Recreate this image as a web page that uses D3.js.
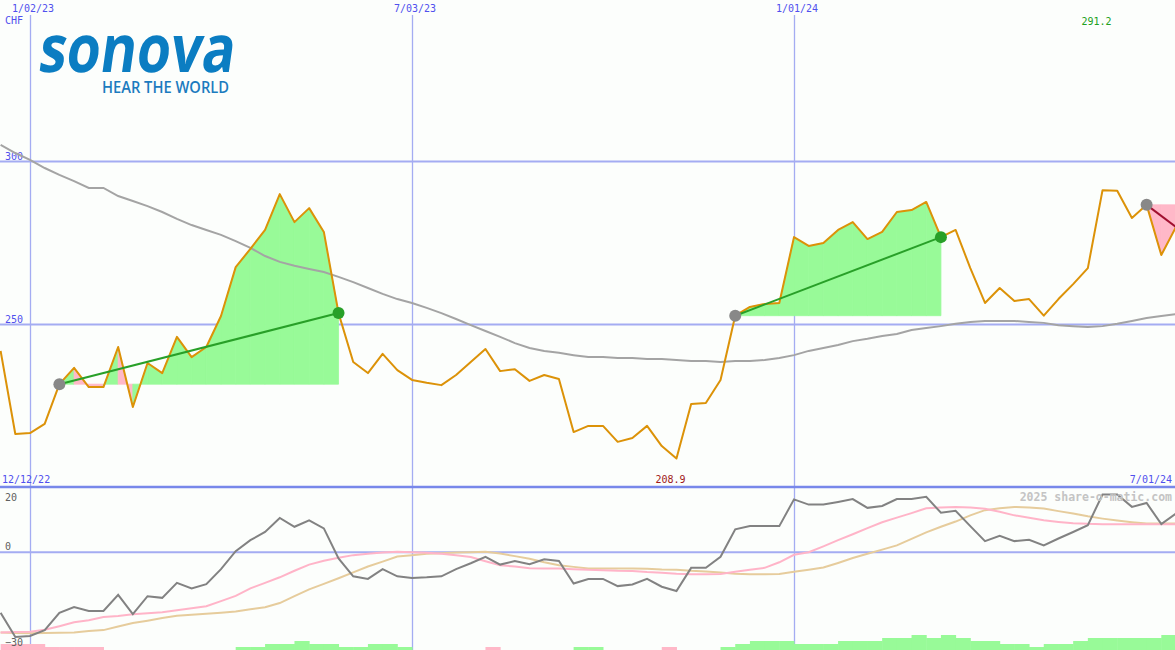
<!DOCTYPE html>
<html>
<head>
<meta charset="utf-8">
<script src="https://cdn.jsdelivr.net/npm/d3@7"></script>
<style>
  html, body { margin: 0; padding: 0; background: #fcfefc; }
  svg { display: block; }
  text.mono { font-family: "DejaVu Sans Mono", monospace; }
</style>
</head>
<body>
<svg id="chart" width="1175" height="650"></svg>
<script>
// ---------- DATA ----------
const startWeek = "12/19/22";          // first weekly bar (just off the left edge)
const topTickLabels = ["1/02/23", "7/03/23", "1/01/24"];
const priceTicks = [300, 250];
const oscTicks = [20, 0, -30];

// weekly closing price (CHF)
const price = [241.9,216.4,216.7,219.5,231.7,236.7,230.8,230.8,243.1,224.7,
  238.2,235.1,246.2,240.0,243.1,252.6,267.6,273.2,279.0,290.0,
  281.4,285.7,278.4,253.5,238.5,235.1,241.0,236.0,233.0,232.1,
  231.4,234.5,238.5,242.5,235.7,236.3,232.7,234.5,233.3,217.0,
  218.9,218.9,214.0,215.2,218.9,212.7,208.9,225.6,225.9,233.0,
  252.7,255.4,256.3,256.6,276.8,274.1,275.0,279.0,281.4,276.2,
  278.4,284.5,285.1,287.6,276.8,279.0,267.3,256.6,261.2,257.2,
  257.8,252.7,257.8,262.4,267.3,291.2,291.0,282.7,286.7,271.3,
  279.9];

// long moving average (grey)
const movingAvg = [305.1,302.6,300.5,298.0,295.9,294.0,291.9,291.9,289.4,287.9,
  286.3,284.5,282.4,280.5,279.0,277.5,275.6,273.5,271.0,269.2,
  268.0,267.0,266.1,264.6,263.0,261.2,259.4,257.8,256.6,255.1,
  253.5,251.7,249.8,248.0,246.2,244.3,242.8,241.9,241.3,240.6,
  240.0,240.0,239.7,239.7,239.4,239.4,239.1,238.8,238.8,238.5,
  238.8,238.8,239.1,239.7,240.6,241.9,242.8,243.7,244.9,245.6,
  246.5,247.1,248.3,248.9,249.5,250.2,250.8,251.1,251.1,251.1,
  250.8,250.5,249.8,249.5,249.2,249.5,250.2,251.1,252.0,252.6,
  253.2];

// oscillator panel
const oscMain = [-18.6,-26.0,-25.7,-23.9,-18.6,-16.8,-18.0,-18.0,-13.1,-19.0,
  -13.5,-14.0,-9.4,-11.1,-9.8,-5.2,0.3,3.7,6.2,10.5,
  7.8,9.8,7.3,-1.9,-7.4,-8.2,-5.2,-7.4,-7.9,-7.7,
  -7.4,-5.2,-3.4,-1.4,-3.8,-2.7,-3.7,-2.2,-2.7,-9.6,
  -8.2,-8.2,-10.4,-9.9,-8.2,-10.6,-11.9,-4.8,-4.8,-1.4,
  7.0,8.0,8.0,8.0,16.2,14.6,14.6,15.4,16.3,13.6,
  14.2,16.3,16.3,17.0,12.1,12.7,8.0,3.4,5.0,3.4,
  3.8,2.1,4.2,6.2,8.3,17.7,17.7,13.9,15.1,8.6,
  11.9];
const oscPink = [-24.6,-24.5,-24.4,-23.8,-22.7,-21.5,-20.9,-19.9,-19.6,-19.0,
  -18.7,-18.4,-17.8,-17.2,-16.6,-15.0,-13.4,-11.1,-9.4,-7.7,
  -5.7,-3.8,-2.6,-1.7,-0.9,-0.5,-0.1,0.1,0.0,-0.2,
  -0.5,-0.9,-1.5,-2.8,-4.0,-4.4,-4.9,-5.0,-5.0,-5.2,
  -5.4,-5.5,-5.7,-5.8,-6.1,-6.3,-6.6,-6.8,-6.8,-6.7,
  -6.0,-5.4,-4.8,-3.1,-0.8,0.0,1.8,3.7,5.5,7.4,
  9.2,10.6,12.0,13.5,13.7,13.9,13.7,13.3,12.4,11.3,
  10.6,9.8,9.3,8.9,8.7,8.6,8.6,8.6,8.6,8.6,
  8.6];
const oscTan = [-24.6,-24.8,-24.9,-24.8,-24.7,-24.6,-24.2,-23.9,-22.8,-21.7,
  -21.0,-20.2,-19.5,-19.2,-18.9,-18.6,-18.2,-17.5,-16.9,-15.6,
  -13.5,-11.4,-9.7,-8.0,-6.2,-4.4,-2.9,-1.3,-0.9,-0.5,
  -0.3,-0.1,0.0,0.1,-0.4,-1.2,-2.0,-3.1,-4.0,-4.5,
  -5.0,-5.0,-5.0,-5.0,-5.1,-5.3,-5.4,-5.7,-5.9,-6.2,
  -6.6,-6.8,-6.8,-6.7,-6.0,-5.4,-4.7,-3.3,-1.8,-0.5,
  0.8,2.1,4.1,6.1,7.8,9.4,11.3,12.9,13.5,13.9,
  13.7,13.4,12.6,11.9,11.0,10.3,9.7,9.2,8.8,8.8,
  8.8];
// weekly histogram (one per week interval)
const histo = [-2,-2,-2,-1,-1,-1,-1,0,0,0, 0,0,0,0,0,0,1,1,2,2,
  3,2,2,1,1,2,2,1,0,0, 0,0,0,-1,0,0,0,0,0,1,
  1,0,0,0,0,-1,0,0,0,1, 2,3,3,3,2,2,2,3,3,3,
  4,4,5,4,5,4,3,3,2,2, 1,2,2,3,4,4,4,4,4,5];

// trades (week indices)
const tradeEntry = [4, 50, 78];
const tradeExit  = [23, 64, 80];
const tradeOpen  = [false, false, true];

const maxLabel = "291.2", maxIndex = 75;
const minLabel = "208.9", minIndex = 46;
const startLabel = "12/12/22", endLabel = "7/01/24";
const currency = "CHF";
const watermark = "2025 share-o-matic.com";

// ---------- CHART ----------
const W = 1175, H = 650;
const parse = d3.timeParse("%m/%d/%y");
const t0 = parse(startWeek);
const dates = price.map((_, i) => d3.timeWeek.offset(t0, i));
const tickDates = topTickLabels.map(parse);

const x = d3.scaleTime()
  .domain([tickDates[0], parse(endLabel)])
  .range([30, 1176]);
const y = d3.scaleLinear().domain([250, 300]).range([324.5, 161.5]);
const yo = d3.scaleLinear().domain([-30, 20]).range([650, 487]);
const yh = d3.scaleLinear().domain([0, 5]).range([650, 635]);

const svg = d3.select("#chart");
svg.append("rect").attr("width", W).attr("height", H).attr("fill", "#fcfefc");

const grid = "#a4acf2";
const blue = "#5050ee";
const mono = sel => sel.attr("class", "mono");

// vertical date grid
svg.append("g").selectAll("line").data(tickDates).join("line")
  .attr("x1", d => Math.round(x(d)) + 0.5).attr("x2", d => Math.round(x(d)) + 0.5)
  .attr("y1", 15).attr("y2", H)
  .attr("stroke", grid).attr("stroke-width", 1.3);
svg.append("g").selectAll("text").data(topTickLabels).join("text").call(mono)
  .attr("x", (d, i) => x(tickDates[i]) + 3).attr("y", 12)
  .attr("text-anchor", "middle").attr("font-size", 10).attr("fill", blue)
  .text(d => d);

// price grid
svg.append("g").selectAll("line").data(priceTicks).join("line")
  .attr("x1", 0).attr("x2", W)
  .attr("y1", d => y(d)).attr("y2", d => y(d))
  .attr("stroke", grid).attr("stroke-width", 2);
svg.append("g").selectAll("text").data(priceTicks).join("text").call(mono)
  .attr("x", 5).attr("y", d => y(d) - 1.5)
  .attr("font-size", 10).attr("fill", blue).text(d => d);
svg.append("text").call(mono).attr("x", 5).attr("y", 24).attr("font-size", 10)
  .attr("fill", blue).text(currency);

// oscillator grid
svg.append("line").attr("x1", 0).attr("x2", W).attr("y1", yo(0)).attr("y2", yo(0))
  .attr("stroke", grid).attr("stroke-width", 2);
svg.append("line").attr("x1", 0).attr("x2", W).attr("y1", yo(20)).attr("y2", yo(20))
  .attr("stroke", "#7888ea").attr("stroke-width", 2.5);

// trade fills (per-segment, coloured by segment end vs entry)
const fills = svg.append("g");
tradeEntry.forEach((e, k) => {
  const lvl = price[e];
  for (let i = e; i < tradeExit[k]; i++) {
    const pts = [[x(dates[i]), y(lvl)], [x(dates[i]), y(price[i])],
                 [x(dates[i + 1]), y(price[i + 1])], [x(dates[i + 1]), y(lvl)]];
    const col = price[i + 1] >= lvl ? "#98fa98" : "#ffb8c8";
    fills.append("path")
      .attr("d", "M" + pts.join("L") + "Z")
      .attr("fill", col).attr("stroke", col).attr("stroke-width", 0.8);
  }
});

// moving average
const line = (arr, ys) => d3.line().x((d, i) => x(dates[i])).y(d => ys(d))(arr);
svg.append("path").attr("d", line(movingAvg, y)).attr("fill", "none")
  .attr("stroke", "#a4a4a4").attr("stroke-width", 2);

// price line
svg.append("path").attr("d", line(price, y)).attr("fill", "none")
  .attr("stroke", "#dc9208").attr("stroke-width", 2).attr("stroke-linejoin", "round");

// trade lines & markers
tradeEntry.forEach((e, k) => {
  const ex = tradeExit[k];
  const win = price[ex] >= price[e];
  svg.append("line")
    .attr("x1", x(dates[e])).attr("y1", y(price[e]))
    .attr("x2", x(dates[ex])).attr("y2", y(price[ex]))
    .attr("stroke", tradeOpen[k] ? "#a01030" : (win ? "#28a028" : "#a01030"))
    .attr("stroke-width", 2);
});
tradeEntry.forEach((e, k) => {
  svg.append("circle").attr("cx", x(dates[e])).attr("cy", y(price[e])).attr("r", 6)
    .attr("fill", "#888888");
  if (!tradeOpen[k]) {
    const ex = tradeExit[k];
    svg.append("circle").attr("cx", x(dates[ex])).attr("cy", y(price[ex])).attr("r", 6)
      .attr("fill", price[ex] >= price[e] ? "#28a028" : "#c02030");
  }
});

// max / min labels
svg.append("text").call(mono).attr("x", x(dates[maxIndex]) - 6).attr("y", 25)
  .attr("text-anchor", "middle").attr("font-size", 10).attr("fill", "#20a020").text(maxLabel);
svg.append("text").call(mono).attr("x", x(dates[minIndex]) - 6).attr("y", 483)
  .attr("text-anchor", "middle").attr("font-size", 10).attr("fill", "#a01818").text(minLabel);
svg.append("text").call(mono).attr("x", 2).attr("y", 483).attr("font-size", 10)
  .attr("fill", blue).text(startLabel);
svg.append("text").call(mono).attr("x", 1172).attr("y", 483).attr("text-anchor", "end")
  .attr("font-size", 10).attr("fill", blue).text(endLabel);

// histogram
svg.append("g").selectAll("rect").data(histo).join("rect")
  .attr("x", (d, i) => x(dates[i]))
  .attr("width", (d, i) => x(dates[i + 1]) - x(dates[i]) + 0.5)
  .attr("y", d => yh(Math.abs(d)))
  .attr("height", d => yh(0) - yh(Math.abs(d)))
  .attr("fill", d => d >= 0 ? "#98fa98" : "#ffb8c8");

// oscillator lines
svg.append("path").attr("d", line(oscTan, yo)).attr("fill", "none")
  .attr("stroke", "#e6cc9c").attr("stroke-width", 2);
svg.append("path").attr("d", line(oscPink, yo)).attr("fill", "none")
  .attr("stroke", "#ffb4c8").attr("stroke-width", 2);
svg.append("path").attr("d", line(oscMain, yo)).attr("fill", "none")
  .attr("stroke", "#828282").attr("stroke-width", 2);

// oscillator labels
const oscLabelY = {"20": 501, "0": 550, "-30": 646};
svg.append("g").selectAll("text").data(oscTicks).join("text").call(mono)
  .attr("x", 5).attr("y", d => oscLabelY[d])
  .attr("font-size", 10).attr("fill", "#606060").text(d => d === -30 ? "\u221230" : d);

svg.append("text").call(mono).attr("x", 1172).attr("y", 501).attr("text-anchor", "end")
  .attr("font-size", 11.5).attr("font-weight", "bold").attr("fill", "#c4c4c4")
  .text(watermark);

// logo
const logo = svg.append("g").attr("transform", "translate(37,72) skewX(-8)");
logo.append("text").attr("x", 0).attr("y", 0)
  .style("font-family", "'Open Sans', 'Noto Sans', sans-serif").style("font-weight", 700)
  .attr("font-size", 66).attr("fill", "#0b7dc2")
  .attr("textLength", 196).attr("lengthAdjust", "spacingAndGlyphs")
  .text("sonova");
svg.append("text").attr("x", 102).attr("y", 93)
  .style("font-family", "'Open Sans', 'Noto Sans', sans-serif").style("font-weight", 600)
  .attr("font-size", 15.5).attr("fill", "#1b7bbf")
  .attr("textLength", 127).attr("lengthAdjust", "spacingAndGlyphs")
  .text("HEAR THE WORLD");
</script>
</body>
</html>
